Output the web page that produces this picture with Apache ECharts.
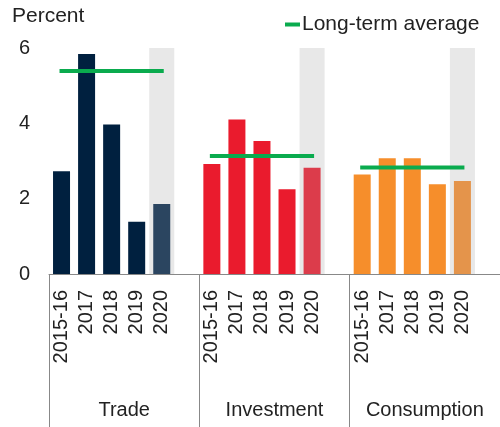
<!DOCTYPE html>
<html>
<head>
<meta charset="utf-8">
<script src="https://cdn.jsdelivr.net/npm/echarts@6/dist/echarts.min.js"></script>
<style>html,body{margin:0;padding:0;background:#fff}#c{width:500px;height:427px}</style>
</head>
<body>
<div id="c"></div>
<script>
const years = ['2015-16', '2017', '2018', '2019', '2020'];
const groups = ['Trade', 'Investment', 'Consumption'];
const trade = [2.73, 5.84, 3.97, 1.39, 1.86];
const investment = [2.92, 4.10, 3.53, 2.25, 2.82];
const consumption = [2.64, 3.07, 3.07, 2.38, 2.47];
const averages = [5.39, 3.13, 2.83];
const yTicks = [0, 2, 4, 6];
const highlightYear = '2020';

const groupValues = [trade, investment, consumption];
const baseColors = ['#00203f', '#ea1b2d', '#f68e2b'];
const lastColors = ['#2b4560', '#dc3c4b', '#e4944b'];
const FONT = 'Liberation Sans, Arial, sans-serif';

const categories = [];
const barData = [];
const avgData = [];
const bgData = [];
groups.forEach((g, gi) => {
  years.forEach((y, yi) => {
    categories.push(y);
    barData.push({
      value: groupValues[gi][yi],
      itemStyle: { color: y === highlightYear ? lastColors[gi] : baseColors[gi] }
    });
    avgData.push(averages[gi]);
    bgData.push(y === highlightYear ? yTicks[yTicks.length - 1] : null);
  });
  categories.push('');
  barData.push(null);
  avgData.push(null);
  bgData.push(null);
});

const chart = echarts.init(document.getElementById('c'));
chart.setOption({
  animation: false,
  grid: { left: 49, right: -3, top: 48, bottom: 153 },
  legend: {
    data: ['Long-term average'],
    left: 280, top: 9,
    icon: 'rect', itemWidth: 15, itemHeight: 4, itemGap: 2,
    textStyle: { fontFamily: FONT, fontSize: 21, color: '#222', padding: [0, 0, 0, -3] }
  },
  graphic: [{
    type: 'text', left: 12, top: 6,
    style: { text: 'Percent', font: '21px ' + FONT, fill: '#222' }
  }],
  xAxis: [{
    type: 'category', data: categories,
    axisLine: { lineStyle: { color: '#888', width: 1 } },
    axisTick: { show: false },
    axisLabel: { interval: 0, rotate: 90, margin: 16, fontFamily: FONT, fontSize: 20, color: '#222' }
  }, {
    type: 'category', data: groups, position: 'bottom',
    axisLine: { show: false },
    axisTick: { show: true, length: 160, interval: 0, lineStyle: { color: '#888', width: 1 } },
    axisLabel: { interval: 0, margin: 126, fontFamily: FONT, fontSize: 20, color: '#222' }
  }, {
    type: 'category', data: categories, show: false
  }],
  yAxis: {
    type: 'value', min: 0, max: 6, interval: 2,
    axisLine: { show: false }, axisTick: { show: false }, splitLine: { show: false },
    axisLabel: { margin: 19, fontFamily: FONT, fontSize: 20, color: '#222' }
  },
  series: [{
    type: 'bar', xAxisIndex: 2, data: bgData, barWidth: '100%',
    itemStyle: { color: '#e8e8e8' }, silent: true, z: 1
  }, {
    type: 'bar', xAxisIndex: 0, data: barData, barWidth: 17, z: 2
  }, {
    name: 'Long-term average', type: 'line', xAxisIndex: 0, data: avgData,
    symbol: 'none', connectNulls: false,
    lineStyle: { color: '#0aab4e', width: 4, cap: 'square' },
    itemStyle: { color: '#0aab4e' }, z: 3
  }]
});
</script>
</body>
</html>
